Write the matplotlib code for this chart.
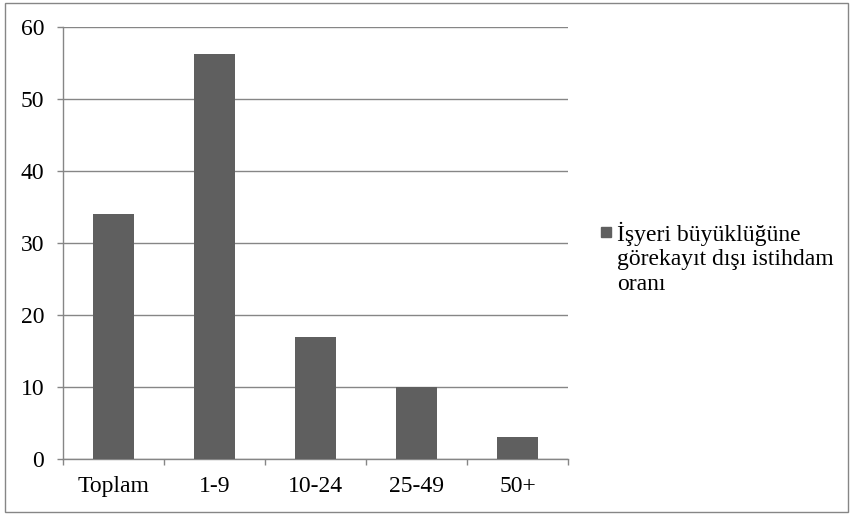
import matplotlib
matplotlib.use('Agg')
import matplotlib.pyplot as plt
from matplotlib.patches import Rectangle
import numpy as np

categories = ['Toplam', '1-9', '10-24', '25-49', '50+']
values = [34.0, 56.3, 17.0, 10.0, 3.1]
legend_label = 'İşyeri büyüklüğüne\ngörekayıt dışı istihdam\noranı'

plt.rcParams['font.family'] = ['Liberation Serif', 'DejaVu Serif']

W, H = 852, 515
fig = plt.figure(figsize=(W / 100, H / 100), dpi=100)
ax = fig.add_axes([63 / W, 1 - 459 / H, (568 - 63) / W, (459 - 27) / H])

grey = '#868686'
bar_color = '#5f5f5f'
fs = 17
x = np.arange(len(categories))
ax.bar(x, values, width=0.4, color=bar_color, zorder=3)

ax.set_xlim(-0.5, len(categories) - 0.5)
ax.set_ylim(0, 60)
ax.set_yticks(range(0, 61, 10))
ax.set_xticks(x)
ax.set_xticklabels(categories)
ax.set_xticks(np.arange(-0.5, len(categories), 1), minor=True)

ax.yaxis.grid(True, color=grey, linewidth=1, zorder=0)
ax.set_axisbelow(True)
for s in ['top', 'right']:
    ax.spines[s].set_visible(False)
for s in ['left', 'bottom']:
    ax.spines[s].set_color(grey)
    ax.spines[s].set_linewidth(1)

ax.tick_params(axis='y', length=4.5, color=grey, width=1, pad=9, labelsize=fs)
ax.tick_params(axis='x', which='major', length=0, pad=12, labelsize=fs)
ax.tick_params(axis='x', which='minor', length=4.5, color=grey, width=1)

# legend drawn by hand so the marker sits on the first line
fig.patches.append(Rectangle((601 / W, 1 - 237 / H), 10 / W, 10 / H,
                             transform=fig.transFigure, color=bar_color))
fig.text(617 / W, 1 - 222 / H, legend_label, fontsize=fs, va='top',
         ha='left', linespacing=1.2)

# chart border
fig.patches.append(Rectangle((5 / W, 3 / H), 843 / W, 509 / H,
                             transform=fig.transFigure, fill=False,
                             edgecolor=grey, linewidth=1))

fig.savefig('out.png', dpi=100)
